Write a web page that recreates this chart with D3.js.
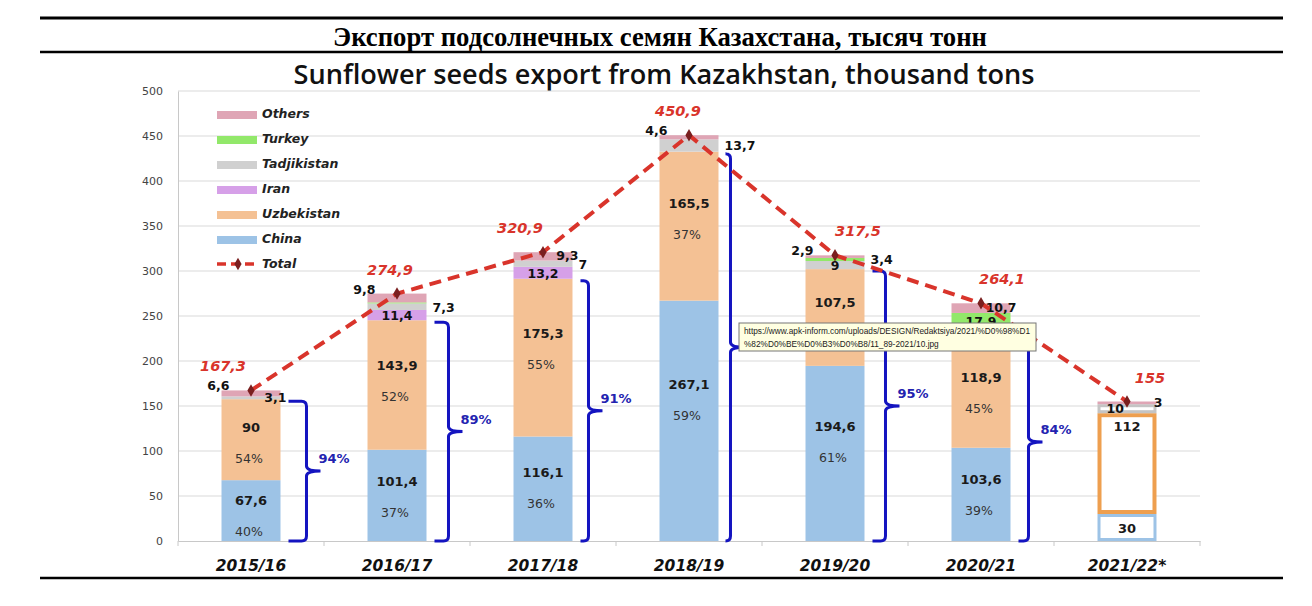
<!DOCTYPE html>
<html>
<head>
<meta charset="utf-8">
<script src="https://cdn.jsdelivr.net/npm/d3@7"></script>
<style>
  body { margin: 0; background: #fff; }
  svg { display: block; }
</style>
</head>
<body>
<div id="chart"></div>
<script>
// Data (thousand tons)
var years = ["2015/16", "2016/17", "2017/18", "2018/19", "2019/20", "2020/21", "2021/22*"];
var china = [67.6, 101.4, 116.1, 267.1, 194.6, 103.6, 30];
var uzbekistan = [90, 143.9, 175.3, 165.5, 107.5, 118.9, 112];
var iran = [0, 11.4, 13.2, 0, 0, 0, 0];
var tadjikistan = [3.1, 7.3, 7, 13.7, 9, 13, 10];
var turkey = [0, 1.1, 0, 0, 3.4, 17.9, 0];
var others = [6.6, 9.8, 9.3, 4.6, 2.9, 10.7, 3];
var totals = [167.3, 274.9, 320.9, 450.9, 317.5, 264.1, 155];
var chinaShare = ["40%", "37%", "36%", "59%", "61%", "39%", null];
var uzbekShare = ["54%", "52%", "55%", "37%", null, "45%", null];
var bracketShare = ["94%", "89%", "91%", null, "95%", "84%", null];
var yTickValues = [0, 50, 100, 150, 200, 250, 300, 350, 400, 450, 500];

var keys = ["China", "Uzbekistan", "Iran", "Tadjikistan", "Turkey", "Others"];
var seriesValues = {China: china, Uzbekistan: uzbekistan, Iran: iran,
  Tadjikistan: tadjikistan, Turkey: turkey, Others: others};

// Layout helpers (not data)
var minorPlace = {
  Iran: [null, "C", "C", null, null, null, null],
  Tadjikistan: ["IR", "R", "R", "R", "C", null, "CL"],
  Turkey: [null, null, null, null, "R", "C", null],
  Others: ["L", "L", "IR", "L", "L", "IR", "IR"]
};
var totalDx = [-28, -7, -23, -11, 23, 21, 23];
var bracketGap = [26, 22, 16, 12, 21, 18];

var color = d3.scaleOrdinal()
  .domain(keys)
  .range(["#9dc3e6", "#f4c194", "#d6a0e8", "#d0d0d0", "#92e86a", "#dfa5b5"]);
var red = "#d9342b";
var blue = "#1414c0";

var W = 1312, H = 606;
var svg = d3.select("#chart").append("svg")
  .attr("width", W).attr("height", H);

var x = d3.scaleBand().domain(years).range([178, 1200])
  .paddingInner(0.596).paddingOuter(0.298);
var y = d3.scaleLinear().domain([0, 500]).range([541, 91]);
var step = x.step();
var bw = x.bandwidth();
function cx(i) { return x(years[i]) + bw / 2; }
function fmt(v) { return String(v).replace(".", ","); }

// Header rules and titles
svg.append("line").attr("x1", 40).attr("x2", 1283).attr("y1", 18).attr("y2", 18)
  .attr("stroke", "#000").attr("stroke-width", 3);
svg.append("line").attr("x1", 40).attr("x2", 1283).attr("y1", 52).attr("y2", 52)
  .attr("stroke", "#000").attr("stroke-width", 2.5);
svg.append("line").attr("x1", 40).attr("x2", 1283).attr("y1", 578).attr("y2", 578)
  .attr("stroke", "#000").attr("stroke-width", 2.5);

function fitText(sel, target) {
  var fs = parseFloat(sel.attr("font-size"));
  var w = sel.node().getComputedTextLength();
  if (w > 0) sel.attr("font-size", fs * target / w);
  return parseFloat(sel.attr("font-size"));
}

var ru = svg.append("text").attr("x", 660).attr("y", 46)
  .attr("text-anchor", "middle")
  .attr("font-family", "'Liberation Serif', 'DejaVu Serif', serif")
  .attr("font-weight", "bold").attr("font-size", 22)
  .text("Экспорт подсолнечных семян Казахстана, тысяч тонн");
fitText(ru, 654);

var en = svg.append("text").attr("x", 664).attr("y", 84)
  .attr("text-anchor", "middle")
  .attr("font-family", "'Open Sans', 'Noto Sans', sans-serif")
  .attr("font-weight", 600).attr("font-size", 22).attr("fill", "#111")
  .text("Sunflower seeds export from Kazakhstan, thousand tons");
fitText(en, 741);

// Grid and axes
var grid = svg.append("g");
grid.selectAll("line").data(yTickValues.slice(1)).enter().append("line")
  .attr("x1", 178).attr("x2", 1200)
  .attr("y1", function(d) { return y(d); }).attr("y2", function(d) { return y(d); })
  .attr("stroke", "#d9d9d9").attr("stroke-width", 1);

var yAxis = svg.append("g")
  .attr("transform", "translate(178,0)")
  .call(d3.axisLeft(y).tickValues(yTickValues).tickSize(0).tickPadding(15));
yAxis.select(".domain").attr("stroke", "#c8c8c8");
yAxis.selectAll("text")
  .attr("font-family", "'DejaVu Sans', Verdana, sans-serif")
  .attr("font-size", 11).attr("fill", "#444");

var xAxis = svg.append("g")
  .attr("transform", "translate(0,541)")
  .call(d3.axisBottom(x).tickSize(0).tickPadding(19));
xAxis.select(".domain").attr("stroke", "#c8c8c8");
xAxis.selectAll("text")
  .attr("font-family", "'DejaVu Sans', Verdana, sans-serif")
  .attr("font-size", 15.5).attr("font-weight", "bold").attr("font-style", "italic")
  .attr("fill", "#111");
xAxis.selectAll(".sep").data(d3.range(years.length + 1)).enter().append("line")
  .attr("x1", function(i) { return 178 + i * step; })
  .attr("x2", function(i) { return 178 + i * step; })
  .attr("y1", 0).attr("y2", 5).attr("stroke", "#c8c8c8");

// Stacked bars
var table = years.map(function(yr, i) {
  var row = {year: yr, i: i};
  keys.forEach(function(k) { row[k] = seriesValues[k][i]; });
  return row;
});
var stacked = d3.stack().keys(keys)(table);
var last = years.length - 1;
var outline = {China: "#9dc3e6", Uzbekistan: "#ee9f4f", Tadjikistan: "#c4c4c4"};
var outlineW = {China: 3, Uzbekistan: 4, Tadjikistan: 3};

var bars = svg.append("g");
stacked.forEach(function(layer) {
  var k = layer.key;
  layer.forEach(function(d, i) {
    var h = y(d[0]) - y(d[1]);
    if (h <= 0) return;
    if (i === last && outline[k]) {
      var sw = outlineW[k];
      bars.append("rect")
        .attr("x", x(years[i]) + sw / 2).attr("y", y(d[1]) + sw / 2)
        .attr("width", bw - sw).attr("height", Math.max(0, h - sw))
        .attr("fill", "#fff").attr("stroke", outline[k]).attr("stroke-width", sw);
    } else {
      bars.append("rect")
        .attr("x", x(years[i])).attr("y", y(d[1]))
        .attr("width", bw).attr("height", h)
        .attr("fill", color(k));
    }
  });
});

// Brackets grouping China + Uzbekistan
function bracketPath(x0, xv, top, bot, tick) {
  var mid = (top + bot) / 2, r = 5;
  return "M" + x0 + "," + top + "L" + (xv - r) + "," + top +
    "Q" + xv + "," + top + " " + xv + "," + (top + r) +
    "L" + xv + "," + (mid - r) +
    "Q" + xv + "," + mid + " " + (xv + tick) + "," + mid +
    "Q" + xv + "," + mid + " " + xv + "," + (mid + r) +
    "L" + xv + "," + (bot - r) +
    "Q" + xv + "," + bot + " " + (xv - r) + "," + bot +
    "L" + x0 + "," + bot;
}
var brk = svg.append("g");
bracketGap.forEach(function(g, i) {
  var right = x(years[i]) + bw;
  var top = y(china[i] + uzbekistan[i]) + 2;
  var bot = y(0);
  var xv = right + g;
  brk.append("path")
    .attr("d", bracketPath(right + 8, xv, top, bot, 14))
    .attr("fill", "none").attr("stroke", blue).attr("stroke-width", 3);
  if (bracketShare[i]) {
    brk.append("text")
      .attr("x", xv + 12).attr("y", (top + bot) / 2 - 8)
      .attr("font-family", "'DejaVu Sans', Verdana, sans-serif")
      .attr("font-weight", "bold").attr("font-size", 13).attr("fill", "#2323b0")
      .text(bracketShare[i]);
  }
});

// Labels inside the main segments
var lab = svg.append("g")
  .attr("font-family", "'DejaVu Sans', Verdana, sans-serif");
[["China", chinaShare], ["Uzbekistan", uzbekShare]].forEach(function(pair) {
  var layer = stacked[keys.indexOf(pair[0])];
  layer.forEach(function(d, i) {
    var top = y(d[1]), bot = y(d[0]), h = bot - top;
    var share = pair[1][i];
    var ty = top + 0.35 * h + 4;
    if (i === last) ty = h > 60 ? top + 18 : (top + bot) / 2 + 5;
    lab.append("text")
      .attr("x", cx(i)).attr("y", ty)
      .attr("text-anchor", "middle").attr("font-weight", "bold")
      .attr("font-size", 13).attr("fill", "#1a1a1a")
      .text(fmt(seriesValues[pair[0]][i]));
    if (share) {
      lab.append("text")
        .attr("x", cx(i) - 2).attr("y", ty + 31)
        .attr("text-anchor", "middle").attr("font-size", 12.5).attr("fill", "#333")
        .text(share);
    }
  });
});

// Labels of the small segments
["Iran", "Tadjikistan", "Turkey", "Others"].forEach(function(k) {
  var layer = stacked[keys.indexOf(k)];
  layer.forEach(function(d, i) {
    var p = minorPlace[k][i];
    if (!p) return;
    var mid = (y(d[0]) + y(d[1])) / 2;
    var left = x(years[i]), right = left + bw;
    var t = lab.append("text").attr("font-weight", "bold")
      .attr("font-size", 12.5).attr("fill", "#111")
      .text(fmt(seriesValues[k][i]));
    if (p === "C") t.attr("x", cx(i)).attr("y", mid + 5).attr("text-anchor", "middle");
    if (p === "R") t.attr("x", right + 6).attr("y", mid + 5);
    if (p === "L") t.attr("x", left + 8).attr("y", y(d[1])).attr("text-anchor", "end");
    if (p === "IR") t.attr("x", right + 6).attr("y", mid + 4).attr("text-anchor", "end");
    if (p === "CL") t.attr("x", cx(i) - 3).attr("y", mid + 4).attr("text-anchor", "end");
  });
});

// Total line
var line = d3.line()
  .x(function(d, i) { return cx(i); })
  .y(function(d) { return y(d); });
svg.append("path").datum(totals)
  .attr("d", line)
  .attr("fill", "none").attr("stroke", red).attr("stroke-width", 4)
  .attr("stroke-dasharray", "12,7");
svg.append("g").selectAll("path").data(totals).enter().append("path")
  .attr("d", d3.symbol().type(d3.symbolDiamond).size(45))
  .attr("transform", function(d, i) { return "translate(" + cx(i) + "," + y(d) + ")"; })
  .attr("fill", "#7a1f1f");
svg.append("g").selectAll("text").data(totals).enter().append("text")
  .attr("x", function(d, i) { return cx(i) + totalDx[i]; })
  .attr("y", function(d) { return y(d) - 19; })
  .attr("text-anchor", "middle")
  .attr("font-family", "'DejaVu Sans', Verdana, sans-serif")
  .attr("font-weight", "bold").attr("font-style", "italic")
  .attr("font-size", 14.5).attr("fill", red)
  .text(function(d) { return fmt(d); });

// Legend
var legendKeys = keys.slice().reverse();
var legend = svg.append("g").attr("transform", "translate(217,118)");
legendKeys.forEach(function(k, i) {
  var g = legend.append("g").attr("transform", "translate(0," + i * 25 + ")");
  g.append("rect").attr("x", 0).attr("y", -7).attr("width", 40).attr("height", 8)
    .attr("fill", color(k));
  g.append("text").attr("x", 45).attr("y", 0)
    .attr("font-family", "'DejaVu Sans', Verdana, sans-serif")
    .attr("font-weight", "bold").attr("font-style", "italic")
    .attr("font-size", 12.5).attr("fill", "#222")
    .text(k);
});
var lt = legend.append("g").attr("transform", "translate(0," + legendKeys.length * 25 + ")");
lt.append("line").attr("x1", 0).attr("x2", 40).attr("y1", -4).attr("y2", -4)
  .attr("stroke", red).attr("stroke-width", 3.5).attr("stroke-dasharray", "9,5");
lt.append("path").attr("d", d3.symbol().type(d3.symbolDiamond).size(45))
  .attr("transform", "translate(21,-4)").attr("fill", "#7a1f1f");
lt.append("text").attr("x", 45).attr("y", 0)
  .attr("font-family", "'DejaVu Sans', Verdana, sans-serif")
  .attr("font-weight", "bold").attr("font-style", "italic")
  .attr("font-size", 12.5).attr("fill", "#222")
  .text("Total");

// Hover tooltip captured in the screenshot
var tip = svg.append("g").attr("transform", "translate(739,323)");
tip.append("rect").attr("width", 297).attr("height", 28)
  .attr("fill", "#ffffe1").attr("stroke", "#767676").attr("stroke-width", 1);
var tipLines = ["https://www.apk-inform.com/uploads/DESIGN/Redaktsiya/2021/%D0%98%D1",
  "%82%D0%BE%D0%B3%D0%B8/11_89-2021/10.jpg"];
var tipWidth = [286, 0];
tipLines.forEach(function(s, i) {
  var t = tip.append("text").attr("x", 5).attr("y", 11 + i * 13)
    .attr("font-family", "'Liberation Sans', Arial, sans-serif")
    .attr("font-size", 9.6).attr("fill", "#222")
    .text(s);
  if (i === 0) {
    var natural = t.node().getComputedTextLength();
    tipWidth[1] = 286 / natural;
    t.attr("textLength", 286).attr("lengthAdjust", "spacingAndGlyphs");
  } else {
    var w = t.node().getComputedTextLength() * tipWidth[1];
    t.attr("textLength", w).attr("lengthAdjust", "spacingAndGlyphs");
  }
});
</script>
</body>
</html>
